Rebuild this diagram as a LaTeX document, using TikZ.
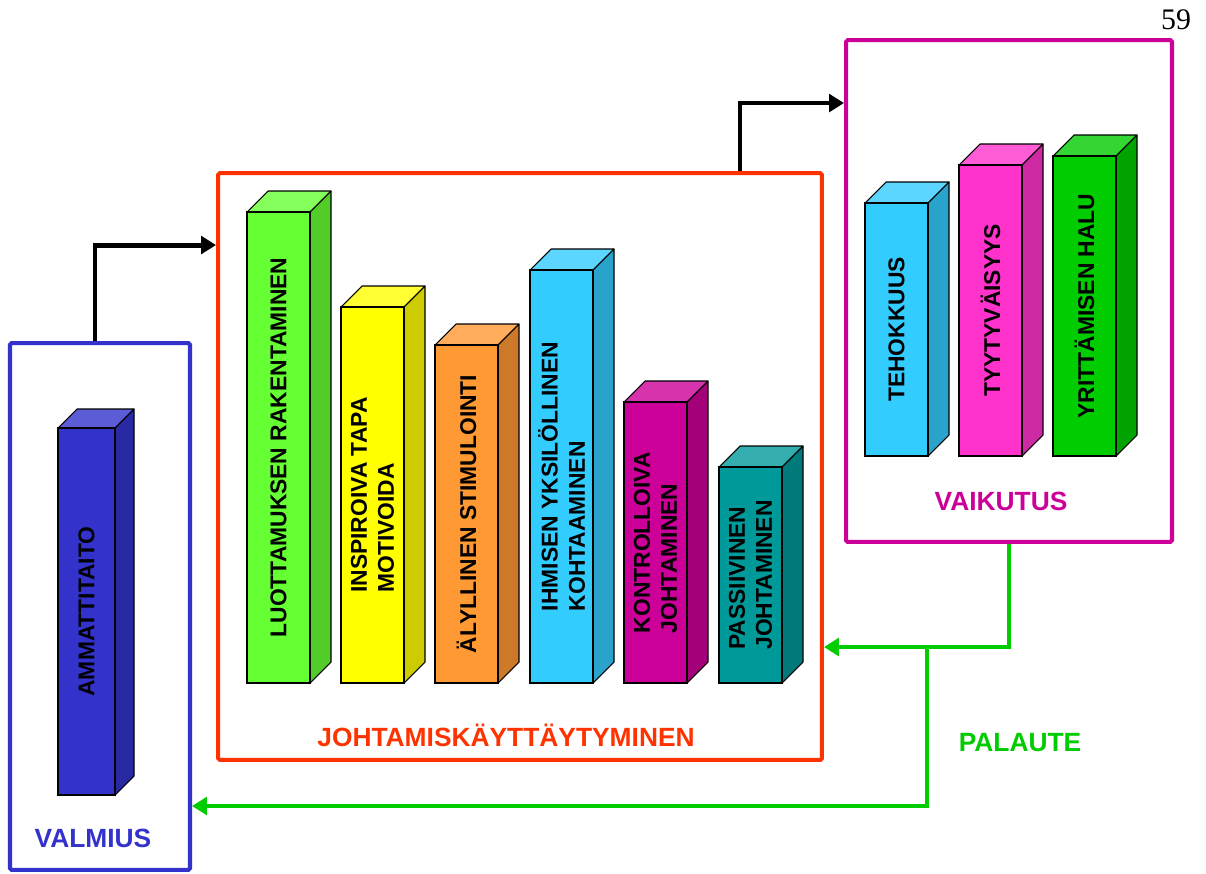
\documentclass[tikz,border=0pt]{standalone}
\usepackage{fontspec}
\setmainfont{Liberation Sans}
\newfontfamily\pagefont{Liberation Serif}
\usepackage{xcolor}
\usetikzlibrary{arrows.meta,calc}

\definecolor{valmiusblue}{HTML}{3333CC}
\definecolor{johtored}{HTML}{FF3300}
\definecolor{vaikmag}{HTML}{CC0099}
\definecolor{palautegreen}{HTML}{00CC00}
\definecolor{barlime}{HTML}{66FF33}
\definecolor{baryellow}{HTML}{FFFF00}
\definecolor{barorange}{HTML}{FF9933}
\definecolor{barcyan}{HTML}{33CCFF}
\definecolor{barteal}{HTML}{009999}
\definecolor{barpink}{HTML}{FF33CC}

\tikzset{
  frame/.style={draw=#1,line width=2.3pt,rounded corners=1pt},
  flow/.style={draw=#1,line width=2.8pt,-{Triangle[length=8.5pt,width=10pt]}},
  bartext/.style={rotate=90,align=left,font=\fontsize{13}{15.5}\selectfont\bfseries},
  title/.style={font=\fontsize{15}{18}\selectfont\bfseries,text=#1}
}

% 3D bar: name, left x, top y, bottom y, colour, label
\newcommand\barw{63}
\newcommand\bard{21}
\newcommand\barblock[6]{%
  \draw[fill=#5!80!white,line width=0.6pt,line join=round]
    (#2,#3) -- ++(\bard,-\bard) -- ++(\barw,0) -- ++(-\bard,\bard) -- cycle;
  \draw[fill=#5!80!black,line width=0.6pt,line join=round]
    (#2+\barw,#3) -- ++(\bard,-\bard) -- (#2+\barw+\bard,#4-\bard) -- (#2+\barw,#4) -- cycle;
  \draw[fill=#5,line width=0.6pt] (#2,#3) rectangle (#2+\barw,#4);
  \node[bartext] (#1) at (#2+\barw/2,{(#3+#4)/2}) {#6};
}

\begin{document}
\begin{tikzpicture}[x=0.02cm,y=-0.02cm]
  \useasboundingbox (0,0) rectangle (1206,873);

  % page number
  \node[font=\pagefont\fontsize{17}{20}\selectfont] (pagenum) at (1176,20) {59};

  % the three frames
  \node[frame=valmiusblue,minimum width=3.6cm,minimum height=10.54cm] (valmius) at (100,606.5) {};
  \node[frame=johtored,minimum width=12.08cm,minimum height=11.74cm] (johtaminen) at (520,466.5) {};
  \node[frame=vaikmag,minimum width=6.52cm,minimum height=10.04cm] (vaikutus) at (1009,291) {};

  \node[title=valmiusblue] (valmiusT) at (93,838) {VALMIUS};
  \node[title=johtored] (johtaminenT) at (506,735) {JOHTAMISKÄYTTÄYTYMINEN};
  \node[title=vaikmag] (vaikutusT) at (1001,501) {VAIKUTUS};
  \node[title=palautegreen] (palauteT) at (1020,743) {PALAUTE};

  % bars
  \renewcommand\barw{57}\renewcommand\bard{19}
  \barblock{ammatti}{58}{428}{795}{valmiusblue}{AMMATTITAITO}
  \renewcommand\barw{63}\renewcommand\bard{21}
  \barblock{luott}{247}{212}{683}{barlime}{LUOTTAMUKSEN RAKENTAMINEN}
  \barblock{inspi}{341}{307}{683}{baryellow}{INSPIROIVA TAPA\\MOTIVOIDA}
  \barblock{alyl}{435}{345}{683}{barorange}{ÄLYLLINEN STIMULOINTI}
  \barblock{ihmis}{530}{270}{683}{barcyan}{IHMISEN YKSILÖLLINEN\\KOHTAAMINEN}
  \barblock{kontr}{624}{402}{683}{vaikmag}{KONTROLLOIVA\\JOHTAMINEN}
  \barblock{passi}{719}{467}{683}{barteal}{PASSIIVINEN\\JOHTAMINEN}
  \barblock{tehok}{865}{203}{456}{barcyan}{TEHOKKUUS}
  \barblock{tyyty}{959}{165}{456}{barpink}{TYYTYVÄISYYS}
  \barblock{yritt}{1053}{156}{456}{palautegreen}{YRITTÄMISEN HALU}

  % connectors
  \draw[flow=black] ($(valmius.north)+(-5,0)$) |- ($(johtaminen.north west)+(0,74)$);
  \draw[flow=black] ($(johtaminen.north east)+(-84,0)$) |- ($(vaikutus.north west)+(0,65)$);
  \coordinate (split) at (927,647);
  \coordinate (low) at (927,806);
  \draw[flow=palautegreen] (vaikutus.south) |- (split) -- (split -| johtaminen.east);
  \draw[flow=palautegreen] (split) -- (low) -- (low -| valmius.east);
\end{tikzpicture}
\end{document}
